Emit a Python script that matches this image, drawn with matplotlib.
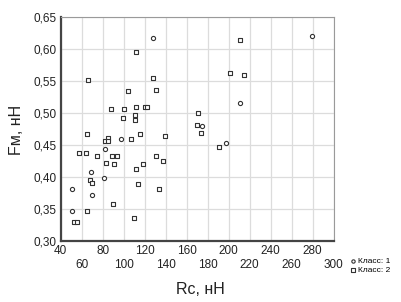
import matplotlib
matplotlib.use("Agg")
import matplotlib.pyplot as plt

plt.rcParams["font.family"] = ["Liberation Sans", "DejaVu Sans"]

# Class 1 (circles): Rc, Fm
rc_class1 = [127.6, 279.0, 211.0, 174.9, 197.9, 98.0, 82.6, 51.3, 51.3, 69.9, 69.2, 81.4]
fm_class1 = [0.618, 0.621, 0.516, 0.480, 0.453, 0.459, 0.444, 0.382, 0.348, 0.372, 0.408, 0.399]

# Class 2 (squares)
rc_class2 = [111.4, 66.6, 127.9, 130.5, 104.4, 88.1, 100.8, 111.7, 120.3, 122.6,
             111.1, 99.9, 111.1, 65.1, 115.2, 139.4, 106.8, 84.8, 82.0, 85.5,
             57.1, 64.4, 75.0, 88.6, 93.8, 83.6, 91.0, 118.6, 111.4, 131.2,
             137.9, 68.3, 69.9, 113.6, 133.4, 89.6, 110.1, 65.4, 52.5, 55.5,
             211.3, 201.7, 214.8, 171.0, 169.8, 173.6, 190.9]
fm_class2 = [0.596, 0.552, 0.555, 0.537, 0.534, 0.507, 0.507, 0.510, 0.510, 0.510,
             0.498, 0.492, 0.489, 0.468, 0.468, 0.464, 0.459, 0.461, 0.456, 0.456,
             0.438, 0.438, 0.434, 0.434, 0.434, 0.423, 0.420, 0.420, 0.413, 0.434,
             0.425, 0.396, 0.391, 0.390, 0.381, 0.359, 0.336, 0.348, 0.330, 0.330,
             0.615, 0.563, 0.560, 0.500, 0.482, 0.469, 0.447]

x_major = [40, 80, 120, 160, 200, 240, 280]
x_minor = [60, 100, 140, 180, 220, 260, 300]
y_ticks = [0.30, 0.35, 0.40, 0.45, 0.50, 0.55, 0.60, 0.65]
y_labels = ["0,30", "0,35", "0,40", "0,45", "0,50", "0,55", "0,60", "0,65"]

fig = plt.figure(figsize=(4.01, 3.02), dpi=100)
ax = fig.add_axes([0.151, 0.201, 0.681, 0.742])

mk = dict(facecolor="white", edgecolor="#333333", linewidths=0.8, s=9, zorder=3)
h1 = ax.scatter(rc_class1, fm_class1, marker="o", label="Класс: 1", **mk)
h2 = ax.scatter(rc_class2, fm_class2, marker="s", label="Класс: 2", **mk)

ax.set_xlim(40, 300)
ax.set_ylim(0.30, 0.65)
ax.set_xticks(x_major)
ax.set_xticks(x_minor, minor=True)
ax.set_xticklabels([str(v) for v in x_major])
ax.set_xticklabels([str(v) for v in x_minor], minor=True)
ax.set_yticks(y_ticks)
ax.set_yticklabels(y_labels)

ax.grid(True, which="both", color="#dcdcdc", linewidth=0.9, zorder=0)
ax.set_axisbelow(True)

ax.tick_params(axis="x", which="major", labelsize=8.5, length=0, pad=3, colors="#222222")
ax.tick_params(axis="x", which="minor", labelsize=8.5, length=0, pad=13, colors="#222222")
ax.tick_params(axis="y", labelsize=8.5, length=0, pad=3, colors="#222222")

for side in ["left", "bottom"]:
    ax.spines[side].set_color("#444444")
    ax.spines[side].set_linewidth(1.6)
for side in ["top", "right"]:
    ax.spines[side].set_color("#9a9a9a")
    ax.spines[side].set_linewidth(0.8)

fig.text(0.04, 0.57, "Fм, нН", rotation=90, ha="center", va="center", fontsize=11.5, color="#222222")
fig.text(0.5, 0.04, "Rc, нН", ha="center", va="center", fontsize=11.5, color="#222222")

fig.legend(handles=[h1, h2], loc="center left", bbox_to_anchor=(0.86, 0.12),
           frameon=False, fontsize=6, handletextpad=0.1, borderpad=0,
           labelspacing=0.2, handlelength=1.0, markerscale=0.8)

fig.savefig("out.png", dpi=100)
